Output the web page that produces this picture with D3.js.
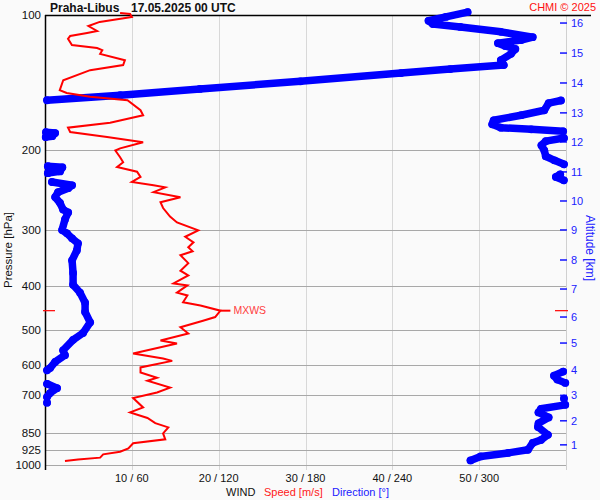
<!DOCTYPE html>
<html><head><meta charset="utf-8">
<script src="https://cdn.jsdelivr.net/npm/d3@7"></script>
<style>
html,body{margin:0;padding:0;background:#fafafa;}
svg{display:block;font-family:"Liberation Sans",Arial,sans-serif;}
</style></head>
<body>
<svg id="c" width="600" height="500"></svg>
<script>
// ---------- data ----------
const stationTitle = "Praha-Libus";
const dateTitle = "17.05.2025 00 UTC";
const copyright = "CHMI \u00a9 2025";
const pressureGrid = [200,300,400,500,600,700,850,925,1000];
const pressureLabels = [100,200,300,400,500,600,700,850,925,1000];
const speedTicks = [10,20,30,40,50];
const speedTickLabels = ["10 / 60","20 / 120","30 / 180","40 / 240","50 / 300"];
const legendParts = ["WIND","Speed [m/s]","Direction [\u00b0]"];
const altitudeKm = [16,15,14,13,12,11,10,9,8,7,6,5,4,3,2,1];
const altitudePressure = [104.2,121.5,141.6,165.0,191.5,223.2,259,300.4,350.3,406.4,469,535.8,615.6,700.3,797.5,902];
// wind speed profile [pressure hPa, speed m/s]
const speedPressure = [99,99.5,101,103.6,105.8,108.5,109.6,111.3,113,116.6,118.4,119.7,122,126,129.2,132.6,139.6,146.9,149,152,154.7,162.8,167,173.6,178,182,186.6,191.8,197.9,200,207,212.4,217.6,223,229,235,239,241.5,247.6,254,260.6,268.5,280.6,289,301,311,320,328,335,342,356,370,379,395,399,414,420,435,442,454,469,478,494,510,529,537,565,580,587,607,623,640,650,673,690,710,745,764,786,807,825,851,877,895,919,934,947,963,972,980];
const speedValues = [8.65,9.8,10.0,6.3,5.0,6.0,4.85,2.9,2.65,3.1,6.0,6.6,6.35,9.2,9.0,5.2,2.1,1.7,2.5,5.2,9.5,11.0,11.3,7.5,2.65,2.9,7.15,11.3,8.65,8.1,8.65,9.0,8.3,10.6,11.0,10.0,12.5,13.85,12.5,15.6,13.3,13.6,14.4,15.2,17.65,16.15,17.1,16.5,17.0,15.6,16.5,15.6,16.5,14.8,16.4,15.2,16.4,15.9,17.9,20.2,19.6,18.2,15.6,16.5,13.3,15.2,10.15,13.6,14.65,11.0,11.0,12.9,11.8,14.4,12.9,10.15,11.3,9.8,11.8,12.7,14.2,13.6,13.85,10.15,9.6,8.65,6.7,6.35,3.8,2.3];
// wind direction profile [pressure hPa, direction deg]
const dirPressure = [98.5,101,103,104.7,106.3,109,112,113.7,115.5,117.2,119,122,126,129.2,131.9,134.6,140.4,146,150.7,154.7,
  154.9,157,162.8,167,171.4,175,178,179.5,181.3,
  182.1,183,185.9,186.8,
  187.7,190.7,194.8,200,206,210.3,214.7,
  216.8,218,222.6,224.6,
  226,229,233,
  235,239,242.6,247.6,253.9,261.7,270.6,274.6,284.7,300.6,305.6,313.6,321.7,333.5,350.9,374.4,397.5,414,436,457,482,509,527,556,570,590,609,616,
  620,633,646,657,
  660,675,692,706,
  712,
  727,
  735,750,764,784,808,823,857,880,893,925,940,957,977];
const dirValues = [292,277,265,268,287,315,337,329,313,318,325,322,315,317,280,246,176.5,107,52,1.4,
  356.5,348,345,329,310,309,315,336,358,
  0.7,7,5,0.5,
  358.6,346,343,345,346,352,358.6,
  2,12,10.4,2,
  356,353,358.5,
  4.8,18.7,16,9,7,10.4,12.5,16,13.8,11.8,15.2,18.7,22.8,22,18.7,19.4,19.4,24.2,27.7,27.7,31.2,26.3,19.4,12.5,13.8,7,3.5,1.4,
  358,351.7,354,359.5,
  1.4,8.3,3.5,1.4,
  358.6,
  1.4,
  359.5,342.7,341,348,341,340.6,347.5,342.7,337,333.7,320,301,294];
const maxWindPressure = 454;
const maxWindSpeed = 20.2;
const maxWindLabel = "MXWS";

// ---------- drawing ----------
const svg = d3.select("#c");
const L = 45, R = 566, T = 15, B = 465;
const x = d3.scaleLinear().domain([0,60]).range([L,R]);
const xDir = d3.scaleLinear().domain([0,360]).range([L,R]);
const y = d3.scaleLog().domain([100,1000]).range([T,B]);

svg.append("rect").attr("width",600).attr("height",500).attr("fill","#fafafa");

// vertical grid
svg.append("g").selectAll("line").data(speedTicks).join("line")
  .attr("x1",d=>Math.round(x(d))+0.5).attr("x2",d=>Math.round(x(d))+0.5).attr("y1",T).attr("y2",470)
  .attr("stroke","#d8d8d8").attr("stroke-width",1);
svg.append("line").attr("x1",R+0.5).attr("x2",R+0.5).attr("y1",T).attr("y2",470)
  .attr("stroke","#d0d0d0");

// horizontal grid
svg.append("g").selectAll("line").data(pressureGrid).join("line")
  .attr("x1",L).attr("x2",R).attr("y1",d=>Math.round(y(d))+0.5).attr("y2",d=>Math.round(y(d))+0.5)
  .attr("stroke","#a8a8a8").attr("stroke-width",1);

// axes frame
svg.append("line").attr("x1",L+0.5).attr("x2",L+0.5).attr("y1",T).attr("y2",470).attr("stroke","#000").attr("stroke-width",1.5);
svg.append("line").attr("x1",L).attr("x2",591).attr("y1",T+0.5).attr("y2",T+0.5).attr("stroke","#000").attr("stroke-width",1.5);

// left labels
svg.append("g").selectAll("text").data(pressureLabels).join("text")
  .attr("x",41).attr("y",d=>y(d)).attr("dy","0.35em").attr("text-anchor","end")
  .attr("font-size",11.5).attr("fill","#111").text(d=>d);
svg.append("text").attr("transform","translate(12,250) rotate(-90)").attr("text-anchor","middle")
  .attr("font-size",11.5).attr("fill","#111").text("Pressure [hPa]");

// right altitude axis
const alt = svg.append("g");
alt.selectAll("line").data(altitudePressure).join("line")
  .attr("x1",560).attr("x2",567).attr("y1",d=>y(d)).attr("y2",d=>y(d))
  .attr("stroke","#2020ff").attr("stroke-width",1.6);
alt.selectAll("text").data(altitudePressure).join("text")
  .attr("x",571).attr("y",d=>y(d)).attr("dy","0.35em").attr("font-size",11)
  .attr("fill","#2020ff").text((d,i)=>altitudeKm[i]);
svg.append("text").attr("transform","translate(586,248) rotate(90)").attr("text-anchor","middle")
  .attr("font-size",12).attr("fill","#2020ff").text("Altitude [km]");

// bottom labels
svg.append("g").selectAll("text").data(speedTicks).join("text")
  .attr("x",d=>x(d)).attr("y",482).attr("text-anchor","middle").attr("font-size",11)
  .attr("fill","#111").text((d,i)=>speedTickLabels[i]);
const legX = [226,264,332];
const legC = ["#111","#ff2020","#2020ff"];
svg.append("g").selectAll("text").data(legendParts).join("text")
  .attr("x",(d,i)=>legX[i]).attr("y",496).attr("font-size",11)
  .attr("fill",(d,i)=>legC[i]).text(d=>d);

// titles
svg.append("text").attr("x",50).attr("y",12).attr("font-size",12).attr("font-weight","bold").attr("fill","#111").text(stationTitle);
svg.append("text").attr("x",131).attr("y",12).attr("font-size",12).attr("font-weight","bold").attr("fill","#111").text(dateTitle);
svg.append("text").attr("x",596).attr("y",11).attr("text-anchor","end").attr("font-size",11).attr("fill","#ff1010").text(copyright);

// direction (thick blue), split at wrap-around
const dirPts = dirPressure.map((p,i)=>[p,dirValues[i]]);
const segs = [];
let cur = [];
dirPts.forEach((d,i)=>{
  if(i>0 && Math.abs(d[1]-dirPts[i-1][1])>180){ segs.push(cur); cur=[]; }
  cur.push(d);
});
segs.push(cur);
const dirLine = d3.line().x(d=>xDir(d[1])).y(d=>y(d[0]));
svg.append("g").selectAll("path").data(segs).join("path")
  .attr("d",dirLine).attr("fill","none").attr("stroke","#0000ff")
  .attr("stroke-width",7.5).attr("stroke-linecap","round").attr("stroke-linejoin","round");
svg.append("g").selectAll("circle").data(dirPts).join("circle")
  .attr("cx",d=>xDir(d[1])).attr("cy",d=>y(d[0])).attr("r",3.9).attr("fill","#0000ff");

// speed (red)
const spPts = speedPressure.map((p,i)=>[p,speedValues[i]]);
svg.append("path").datum(spPts)
  .attr("d",d3.line().x(d=>x(d[1])).y(d=>y(d[0])))
  .attr("fill","none").attr("stroke","#ff0000").attr("stroke-width",2).attr("stroke-linejoin","miter");

// max wind marker
const ym = y(maxWindPressure);
svg.append("line").attr("x1",43).attr("x2",55).attr("y1",ym).attr("y2",ym).attr("stroke","#ff0000").attr("stroke-width",1.2);
svg.append("line").attr("x1",555).attr("x2",568).attr("y1",ym).attr("y2",ym).attr("stroke","#ff0000").attr("stroke-width",1.2);
svg.append("line").attr("x1",x(maxWindSpeed)).attr("x2",x(maxWindSpeed)+10).attr("y1",ym).attr("y2",ym).attr("stroke","#ff0000").attr("stroke-width",2);
svg.append("text").attr("x",x(maxWindSpeed)+13).attr("y",ym).attr("dy","0.35em").attr("font-size",10.5)
  .attr("fill","#ff4040").text(maxWindLabel);
</script>
</body></html>
